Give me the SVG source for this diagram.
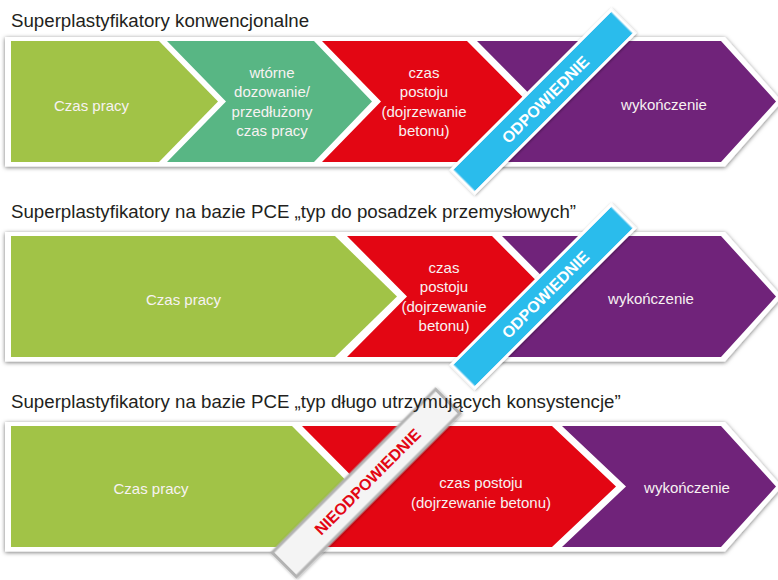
<svg xmlns="http://www.w3.org/2000/svg" width="778" height="580" viewBox="0 0 778 580">
<defs>
<filter id="sh" x="-5%" y="-20%" width="110%" height="140%">
<feDropShadow dx="0" dy="1" stdDeviation="2" flood-color="#000" flood-opacity="0.55"/>
</filter>
<filter id="bsh" x="-10%" y="-50%" width="120%" height="200%">
<feDropShadow dx="0" dy="1" stdDeviation="1.5" flood-color="#000" flood-opacity="0.35"/>
</filter>
</defs>
<style>
.title{font-family:"Liberation Sans",Arial,sans-serif;font-size:18.7px;fill:#231f20}
.box{fill:#ffffff}
.g{fill:#a1c347}.t{fill:#58b684}.r{fill:#e30613}.p{fill:#70237a}
.lbl{font-family:"Liberation Sans",Arial,sans-serif;font-size:15px;fill:#f7f2f2;text-anchor:middle}
.ok{fill:#2bbcec;stroke:#ffffff;stroke-width:3}
.okt{font-family:"Liberation Sans",Arial,sans-serif;font-size:16px;font-weight:bold;fill:#ffffff;text-anchor:middle}
.no{fill:#f4f4f4;stroke:#b3b3b3;stroke-width:3}
.not{font-family:"Liberation Sans",Arial,sans-serif;font-size:16px;font-weight:bold;fill:#e30613;text-anchor:middle}
</style>

<!-- Row 1 -->
<g id="row1">
<path class="box" filter="url(#sh)" d="M5,37 H725 L782,101.5 L725,166.5 H5 Z"/>
<g id="r1-praca"><path class="g" d="M11,41 H159 L218,101.5 L159,162 H11 Z"/><text class="lbl" x="91.5" y="111">Czas pracy</text></g>
<g id="r1-wtorne"><path class="t" d="M167,41 H314 L372,101.5 L314,162 H167 L226,101.5 Z"/>
<text class="lbl" x="272" y="78">wtórne</text><text class="lbl" x="272" y="97.3">dozowanie/</text><text class="lbl" x="272" y="116.8">przedłużony</text><text class="lbl" x="272" y="136">czas pracy</text></g>
<g id="r1-postoj"><path class="r" d="M322,41 H467 L527,101.5 L467,162 H322 L381,101.5 Z"/>
<text class="lbl" x="424" y="78">czas</text><text class="lbl" x="424" y="97.3">postoju</text><text class="lbl" x="424" y="116.8">(dojrzewanie</text><text class="lbl" x="424" y="136">betonu)</text></g>
<g id="r1-wyk"><path class="p" d="M477,41 H721 L776,101.5 L721,162 H477 L537,101.5 Z"/><text class="lbl" x="664" y="110">wykończenie</text></g>
<g id="r1-banner" transform="translate(543,101.5) rotate(-45)"><rect class="ok" filter="url(#bsh)" x="-113" y="-16.5" width="226" height="33"/><text class="okt" x="3" y="6">ODPOWIEDNIE</text></g>
<text id="r1-title" class="title" x="11" y="26.5">Superplastyfikatory konwencjonalne</text>
</g>

<!-- Row 2 -->
<g id="row2">
<path class="box" filter="url(#sh)" d="M5,232 H725 L782,296.5 L725,361.5 H5 Z"/>
<g id="r2-praca"><path class="g" d="M11,236 H335 L397,296.5 L335,357 H11 Z"/><text class="lbl" x="183.5" y="305">Czas pracy</text></g>
<g id="r2-postoj"><path class="r" d="M347,236 H492 L552,296.5 L492,357 H347 L407,296.5 Z"/>
<text class="lbl" x="444" y="273">czas</text><text class="lbl" x="444" y="292.3">postoju</text><text class="lbl" x="444" y="311.8">(dojrzewanie</text><text class="lbl" x="444" y="331">betonu)</text></g>
<g id="r2-wyk"><path class="p" d="M502,236 H721 L776,296.5 L721,357 H502 L562,296.5 Z"/><text class="lbl" x="651" y="304">wykończenie</text></g>
<g id="r2-banner" transform="translate(543,296.5) rotate(-45)"><rect class="ok" filter="url(#bsh)" x="-113" y="-16.5" width="226" height="33"/><text class="okt" x="3" y="6">ODPOWIEDNIE</text></g>
<text id="r2-title" class="title" x="11" y="218">Superplastyfikatory na bazie PCE „typ do posadzek przemysłowych”</text>
</g>

<!-- Row 3 -->
<g id="row3">
<path class="box" filter="url(#sh)" d="M5,422 H725 L782,486.5 L725,551.5 H5 Z"/>
<g id="r3-praca"><path class="g" d="M11,426 H292 L352,486.5 L292,547 H11 Z"/><text class="lbl" x="151" y="494">Czas pracy</text></g>
<g id="r3-postoj"><path class="r" d="M302,426 H552 L616,486.5 L552,547 H302 L362,486.5 Z"/>
<text class="lbl" x="481" y="488">czas postoju</text><text class="lbl" x="481" y="507.5">(dojrzewanie betonu)</text></g>
<g id="r3-wyk"><path class="p" d="M562,426 H721 L776,486.5 L721,547 H562 L626,486.5 Z"/><text class="lbl" x="687" y="492.5">wykończenie</text></g>
<g id="r3-banner" transform="translate(366,483) rotate(-45)"><rect class="no" filter="url(#bsh)" x="-115.5" y="-17" width="231" height="34"/><text class="not" x="2" y="6">NIEODPOWIEDNIE</text></g>
<text id="r3-title" class="title" x="11" y="408">Superplastyfikatory na bazie PCE „typ długo utrzymujących konsystencje”</text>
</g>

<g id="connectors"/>
</svg>
